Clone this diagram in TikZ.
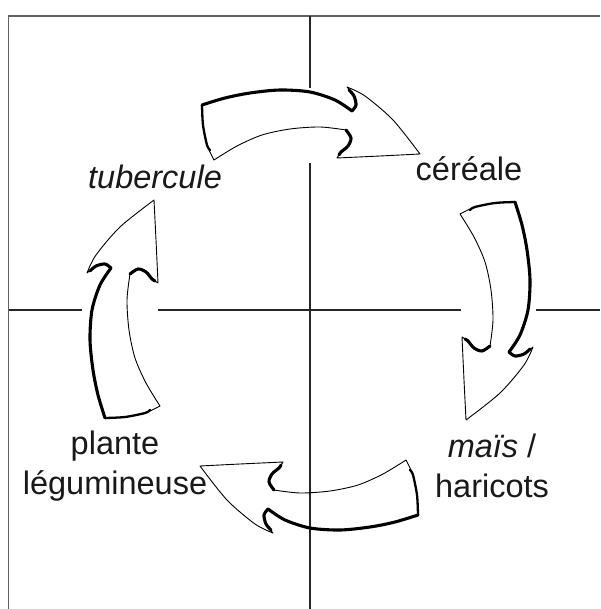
\documentclass[tikz,border=0pt]{standalone}
\usepackage{fontspec}
\setmainfont{Liberation Sans}
\begin{document}
\begin{tikzpicture}[x=1pt,y=-1pt]
\tikzset{
  frameline/.style={draw=black!62, line width=1.6pt},
  gridline/.style={draw=black!85, line width=1.1pt},
  thinedge/.style={draw=black, line width=0.9pt, line join=round},
  thickedge/.style={draw=black, line width=3.1pt, line cap=round, line join=round},
  midedge/.style={draw=black, line width=2.3pt, line cap=round, line join=round},
  lbl/.style={font=\fontsize{32.5}{40}\selectfont, text=black!90, inner sep=0pt, align=center, anchor=base},
}
\newcommand\cyclearrow[2]{%
\begin{scope}[shift={(310,310)}, rotate=#1]
  \path[fill=#2, thinedge]
    plot[smooth] coordinates {(-96,-150) (-103,-165) (-107,-185) (-108,-205)}
    -- plot[smooth] coordinates {(-108,-205) (-85,-212) (-60,-217) (-30,-220) (0,-218) (25,-210) (42,-199)}
    -- plot[smooth] coordinates {(42,-199) (46,-205) (44,-214) (37,-223)}
    -- plot[smooth] coordinates {(37,-223) (55,-214) (83,-190) (110,-156)}
    -- plot[smooth] coordinates {(110,-156) (70,-154) (27,-152)}
    -- plot[smooth] coordinates {(27,-152) (31,-158) (38,-164) (41,-172) (36,-180)}
    -- plot[smooth] coordinates {(36,-180) (10,-183) (-20,-181) (-48,-175) (-73,-164) (-96,-150)}
    -- cycle;
  \draw[midedge] plot[smooth] coordinates {(-100,-160) (-103,-165) (-107,-185) (-108,-205)};
  \draw[thickedge] plot[smooth] coordinates {(-108,-205) (-85,-212) (-60,-217) (-30,-220) (0,-218) (25,-210) (42,-199)};
  \draw[thickedge] plot[smooth] coordinates {(42,-199) (46,-205) (44,-214) (39,-220)};
  \draw[thickedge] plot[smooth] coordinates {(29,-155) (31,-158) (38,-164) (41,-172) (36,-180)};
\end{scope}}

\useasboundingbox (0,0) rectangle (600,609);
\fill[white] (0,0) rectangle (600,609);

% frame
\draw[frameline] (600,16) -- (8.5,16) -- (8.5,609);

% cross lines with gaps
\draw[gridline] (310,16) -- (310,88);
\draw[gridline] (310,163) -- (310,609);
\draw[gridline] (8.5,310) -- (82,310);
\draw[gridline] (158,310) -- (461,310);
\draw[gridline] (536,310) -- (600,310);

% arrows
\cyclearrow{0}{white}
\cyclearrow{-90}{white}
\cyclearrow{90}{white}
\cyclearrow{180}{none}

% labels
\node[lbl] (tub) at (155,189) {\itshape tubercule};
\node[lbl] (cer) at (469,181) {céréale};
\node[lbl] (leg) at (115,494) {plante\\légumineuse};
\node[lbl] (mai) at (492,497) {\textit{maïs} /\\haricots};
\end{tikzpicture}
\end{document}
